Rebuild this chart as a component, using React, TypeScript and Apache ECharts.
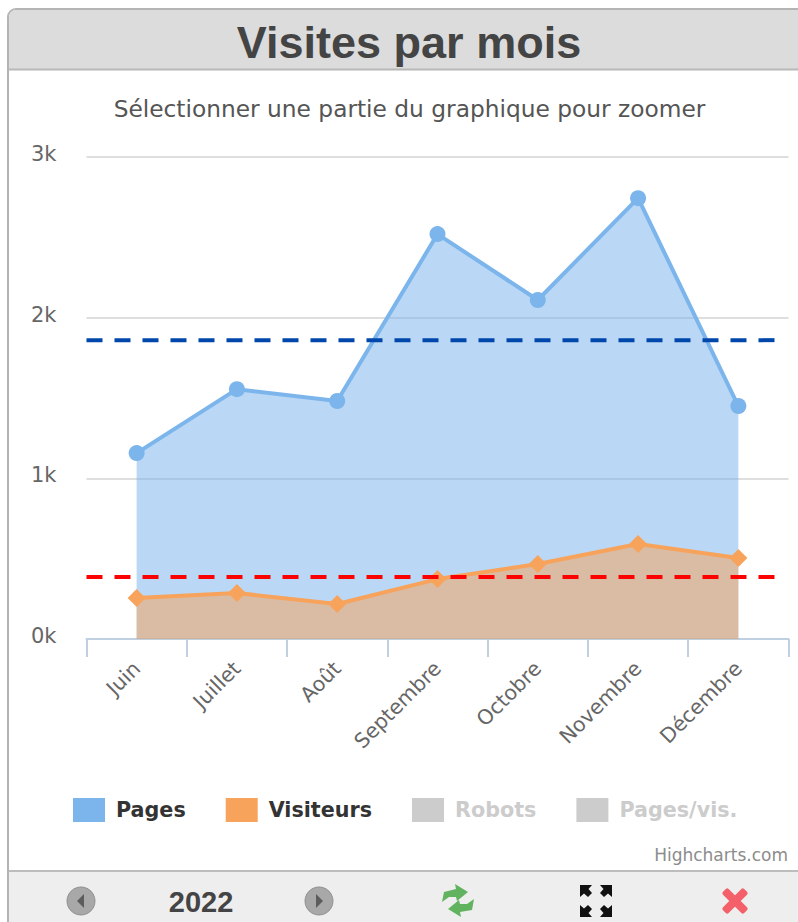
import React, { useEffect, useRef } from "react";
import * as echarts from "echarts";

const months = ["Juin", "Juillet", "Août", "Septembre", "Octobre", "Novembre", "Décembre"];
const pages = [1157, 1555, 1481, 2520, 2110, 2744, 1450];
const visitors = [255, 286, 218, 373, 467, 591, 504];
const pagesMean = 1860;
const visitorsMean = 386;
const meanSpan = [-0.5, 6.38];
const legendNames = ["Pages", "Visiteurs", "Robots", "Pages/vis."];

const ui = "'DejaVu Sans'";

function chrome(): any[] {
  const x = (cx: number, cy: number, rot: number) => ({
    type: "rect", x: cx, y: cy, rotation: rot, shape: { x: -15, y: -4, width: 30, height: 8, r: 2 },
    style: { fill: "#f4606a" },
  });
  const corner = (cx: number, cy: number, sx: number, sy: number) => ({
    type: "polygon",
    shape: {
      points: [
        [cx, cy], [cx + sx * 12, cy], [cx + sx * 8.5, cy + sy * 4], [cx + sx * 12, cy + sy * 8],
        [cx + sx * 8, cy + sy * 12], [cx + sx * 4, cy + sy * 8.5], [cx, cy + sy * 12],
      ],
    },
    style: { fill: "#111" },
  });
  const nav = (cx: number, dir: number) => [
    { type: "circle", shape: { cx, cy: 901, r: 14 }, style: { fill: "#a8a8a8", stroke: "#8e8e8e", lineWidth: 1 } },
    {
      type: "polygon",
      shape: { points: [[cx - dir * 4, 901], [cx + dir * 3, 894], [cx + dir * 3, 908]] },
      style: { fill: "#5c5c5c" },
    },
  ];
  return [
    { type: "rect", shape: { x: 8, y: 9, width: 800, height: 920, r: [8, 0, 0, 0] }, style: { fill: "#fff", stroke: "#b4b4b4", lineWidth: 2 }, z: -10 },
    { type: "rect", shape: { x: 9, y: 10, width: 790, height: 59, r: [7, 0, 0, 0] }, style: { fill: "#dcdcdc" }, z: -9 },
    { type: "rect", shape: { x: 9, y: 68.5, width: 790, height: 2 }, style: { fill: "#b8b8b8" }, z: -9 },
    { type: "rect", shape: { x: 9, y: 872, width: 790, height: 50 }, style: { fill: "#eeeeee" }, z: -9 },
    { type: "rect", shape: { x: 9, y: 870, width: 790, height: 2 }, style: { fill: "#bdbdbd" }, z: -9 },
    ...nav(81, 1),
    ...nav(319, -1),
    { type: "text", x: 201, y: 902, style: { text: "2022", fill: "#444", font: "bold 29px 'Liberation Sans Narrow','Liberation Sans'", align: "center", verticalAlign: "middle" } },
    { type: "polygon", shape: { points: [[442, 902], [444, 892], [456, 889], [455, 884], [468, 892], [457, 901], [456, 897], [449, 897]] }, style: { fill: "#62b35f" } },
    { type: "polygon", shape: { points: [[474, 899], [472, 910], [460, 912], [461, 917], [448, 909], [459, 900], [460, 904], [467, 904]] }, style: { fill: "#62b35f" } },
    corner(580, 885, 1, 1), corner(612, 885, -1, 1), corner(580, 917, 1, -1), corner(612, 917, -1, -1),
    x(735, 901, Math.PI / 4), x(735, 901, -Math.PI / 4),
    { type: "text", x: 788, y: 855, style: { text: "Highcharts.com", fill: "#8c8c8c", font: `17px ${ui}`, align: "right", verticalAlign: "middle" } },
  ];
}

export default function App() {
  const ref = useRef<HTMLDivElement>(null);
  useEffect(() => {
    document.body.style.margin = "0";
    const chart = echarts.init(ref.current!, undefined, { renderer: "svg" });
    const cats = { type: "category", data: months };
    chart.setOption({
      animation: false,
      backgroundColor: "#fff",
      title: [
        { text: "Visites par mois", left: 404, top: 15, textAlign: "center", textStyle: { fontFamily: "'Liberation Sans'", fontSize: 45, fontWeight: "bold", color: "#444" } },
        { text: "Sélectionner une partie du graphique pour zoomer", left: 404.5, top: 92, textAlign: "center", textStyle: { fontFamily: ui, fontSize: 23.3, fontWeight: "normal", color: "#555" } },
      ],
      legend: {
        data: legendNames,
        left: 68, top: 793, itemWidth: 32, itemHeight: 24, itemGap: 40,
        icon: "rect",
        inactiveColor: "#ccc",
        selected: { Robots: false, "Pages/vis.": false },
        textStyle: { fontFamily: ui, fontSize: 20.7, fontWeight: "bold", color: "#333", padding: [0, 0, 0, 6] },
      },
      grid: { left: 86.5, width: 702, top: 157, height: 482 },
      xAxis: [
        {
          ...cats,
          boundaryGap: true,
          axisLine: { lineStyle: { color: "#c0d0e0", width: 2 } },
          axisTick: { show: true, length: 18, alignWithLabel: false, lineStyle: { color: "#c0d0e0", width: 2 } },
          axisLabel: { rotate: 45, fontFamily: ui, fontSize: 20.5, color: "#666", margin: 26, interval: 0 },
          splitLine: { show: false },
        },
        { type: "value", min: -0.5, max: 6.5, show: false },
      ],
      yAxis: {
        type: "value", min: 0, max: 3000, interval: 1000,
        axisLabel: { formatter: (v: number) => `${v / 1000}k`, fontFamily: ui, fontSize: 21, color: "#666", margin: 30, verticalAlign: "bottom", lineHeight: 6 },
        axisLine: { show: false }, axisTick: { show: false },
        splitLine: { lineStyle: { color: "#dedede", width: 2 } },
      },
      series: [
        {
          name: "Pages", type: "line", data: pages, symbol: "circle", symbolSize: 16, showSymbol: true, z: 3,
          itemStyle: { color: "#7cb5ec" }, lineStyle: { color: "#7cb5ec", width: 4 },
          areaStyle: { color: "#7cb5ec", opacity: 0.53 },
        },
        {
          name: "Visiteurs", type: "line", data: visitors, symbol: "diamond", symbolSize: 18, z: 4,
          itemStyle: { color: "#f7a35c" }, lineStyle: { color: "#f7a35c", width: 4 },
          areaStyle: { color: "#f7a35c", opacity: 0.53 },
        },
        { name: "Robots", type: "line", data: [], itemStyle: { color: "#434348" } },
        { name: "Pages/vis.", type: "line", data: [], itemStyle: { color: "#90ed7d" } },
        {
          type: "line", xAxisIndex: 1, data: meanSpan.map((m) => [m, pagesMean]), symbol: "none", z: 5, silent: true,
          lineStyle: { color: "#0047ab", width: 4, type: [16, 12] },
        },
        {
          type: "line", xAxisIndex: 1, data: meanSpan.map((m) => [m, visitorsMean]), symbol: "none", z: 5, silent: true,
          lineStyle: { color: "#ff0000", width: 4, type: [16, 12] },
        },
      ],
      graphic: chrome(),
    });
    return () => chart.dispose();
  }, []);
  return <div ref={ref} style={{ width: 798, height: 922 }} />;
}
